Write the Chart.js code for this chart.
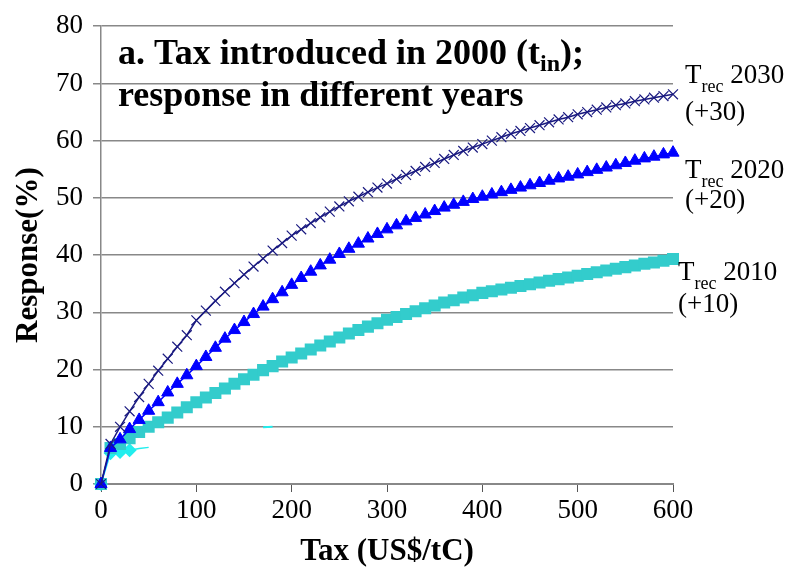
<!DOCTYPE html>
<html>
<head>
<meta charset="utf-8">
<script src="https://cdn.jsdelivr.net/npm/chart.js@4/dist/chart.umd.min.js"></script>
<style>
  html, body { margin: 0; padding: 0; background: #fff; }
  #chart { display: block; }
</style>
</head>
<body>
<canvas id="chart" width="788" height="570"></canvas>
<script>
// tax levels (US$/tC)
const taxes = [0, 10, 20, 30, 40, 50, 60, 70, 80, 90,
  100, 110, 120, 130, 140, 150, 160, 170, 180, 190,
  200, 210, 220, 230, 240, 250, 260, 270, 280, 290,
  300, 310, 320, 330, 340, 350, 360, 370, 380, 390,
  400, 410, 420, 430, 440, 450, 460, 470, 480, 490,
  500, 510, 520, 530, 540, 550, 560, 570, 580, 590, 600];

// response (%) by year
const resp2030 = [0, 7, 10, 12.7, 15.2, 17.5, 19.8, 21.9, 24, 26,
  28.6, 30.3, 32, 33.6, 35.1, 36.6, 38, 39.4, 40.8, 42.1,
  43.4, 44.5, 45.6, 46.6, 47.6, 48.5, 49.4, 50.2, 51, 51.8,
  52.5, 53.3, 54, 54.7, 55.4, 56.1, 56.8, 57.5, 58.2, 58.8,
  59.4, 60, 60.6, 61.2, 61.7, 62.2, 62.7, 63.2, 63.7, 64.1,
  64.6, 65, 65.4, 65.8, 66.2, 66.5, 66.9, 67.2, 67.5, 67.8, 68.1];

const resp2020 = [0, 6.3, 7.8, 9.6, 11.2, 12.8, 14.3, 16, 17.5, 19,
  20.6, 22.2, 23.8, 25.4, 26.9, 28.3, 29.7, 31, 32.3, 33.5,
  34.8, 36, 37.1, 38.2, 39.2, 40.2, 41.1, 42, 42.9, 43.7,
  44.5, 45.2, 45.9, 46.5, 47.1, 47.7, 48.3, 48.8, 49.3, 49.8,
  50.2, 50.6, 51, 51.4, 51.8, 52.2, 52.6, 53, 53.4, 53.7,
  54.1, 54.5, 54.9, 55.3, 55.7, 56.1, 56.5, 56.9, 57.2, 57.6, 57.9];

const resp2010 = [0, 6.3, 7, 8, 9.1, 10, 10.8, 11.6, 12.5, 13.4,
  14.3, 15.1, 15.9, 16.7, 17.5, 18.3, 19.1, 19.9, 20.6, 21.4,
  22.1, 22.8, 23.5, 24.2, 24.9, 25.6, 26.3, 26.9, 27.5, 28.1,
  28.7, 29.2, 29.7, 30.2, 30.7, 31.2, 31.7, 32.1, 32.6, 33,
  33.4, 33.7, 34, 34.3, 34.6, 34.9, 35.2, 35.5, 35.8, 36.1,
  36.4, 36.7, 37, 37.3, 37.6, 37.9, 38.2, 38.5, 38.7, 39, 39.3];

// short cyan series near the origin
const earlyTaxes = [0, 10, 20, 30, 40, 50];
const earlyResp = [0, 5.4, 5.6, 5.9, 6.2, 6.4];
const strayTaxes = [170, 180];
const strayResp = [9.9, 10];

const yTicks = [0, 10, 20, 30, 40, 50, 60, 70, 80];
const xTicks = [0, 100, 200, 300, 400, 500, 600];

const serif = "'Liberation Serif', 'DejaVu Serif', serif";

function pts(xs, ys) {
  return xs.map((x, i) => ({ x: x, y: ys[i] }));
}

// draw "T" + subscript + rest
function subText(ctx, x, y, main, sub, rest, size, bold, subDrop) {
  const w = bold ? 'bold ' : '';
  ctx.font = w + size + 'px ' + serif;
  ctx.fillText(main, x, y);
  x += ctx.measureText(main).width;
  const subSize = Math.round(size * 0.66);
  ctx.font = w + subSize + 'px ' + serif;
  ctx.fillText(sub, x, y + subDrop);
  x += ctx.measureText(sub).width;
  ctx.font = w + size + 'px ' + serif;
  ctx.fillText(rest, x, y);
}

const labelsPlugin = {
  id: 'labels',
  afterDraw(chart) {
    const ctx = chart.ctx;
    ctx.save();
    ctx.fillStyle = '#000';
    ctx.textAlign = 'left';
    ctx.textBaseline = 'alphabetic';
    // panel title
    subText(ctx, 118, 64, 'a. Tax introduced in 2000 (t', 'in', ');', 36, true, 7);
    ctx.font = 'bold 36px ' + serif;
    ctx.fillText('response in different years', 118, 106);
    // series labels
    subText(ctx, 685, 83, 'T', 'rec', ' 2030', 27, false, 9);
    ctx.font = '27px ' + serif;
    ctx.fillText('(+30)', 685, 120);
    subText(ctx, 685, 178, 'T', 'rec', ' 2020', 27, false, 9);
    ctx.font = '27px ' + serif;
    ctx.fillText('(+20)', 685, 208);
    subText(ctx, 678, 280, 'T', 'rec', ' 2010', 27, false, 9);
    ctx.font = '27px ' + serif;
    ctx.fillText('(+10)', 678, 312);
    ctx.restore();
  }
};

new Chart(document.getElementById('chart'), {
  type: 'scatter',
  data: {
    datasets: [
      {
        label: 'Trec 2030 (+30)',
        data: pts(taxes, resp2030),
        showLine: true,
        clip: 10,
        borderColor: '#1a1a80',
        borderWidth: 1.5,
        pointStyle: 'crossRot',
        pointRadius: 7,
        pointBorderWidth: 1.2,
        pointBorderColor: '#1a1a80',
        order: 1
      },
      {
        label: 'Trec 2020 (+20)',
        data: pts(taxes, resp2020),
        showLine: true,
        clip: 10,
        borderColor: '#0000ff',
        borderWidth: 1.5,
        pointStyle: 'triangle',
        pointRadius: 7,
        pointBackgroundColor: '#0000ff',
        pointBorderColor: '#0000ff',
        pointBorderWidth: 1,
        order: 2
      },
      {
        label: 'Trec 2010 (+10)',
        data: pts(taxes, resp2010),
        showLine: true,
        clip: 10,
        borderColor: '#33cccc',
        borderWidth: 1.5,
        pointStyle: 'rect',
        pointRadius: 8.5,
        pointBackgroundColor: '#33cccc',
        pointBorderColor: '#33cccc',
        pointBorderWidth: 0,
        order: 3
      },
      {
        label: 'early',
        data: pts(earlyTaxes, earlyResp),
        showLine: true,
        clip: 10,
        borderColor: '#22eeee',
        borderWidth: 1.5,
        pointStyle: 'rectRot',
        pointRadius: [6, 6, 6, 6, 0, 0],
        pointBackgroundColor: '#22eeee',
        pointBorderColor: '#22eeee',
        order: 4
      },
      {
        label: 'stray',
        data: pts(strayTaxes, strayResp),
        showLine: true,
        borderColor: '#22eeee',
        borderWidth: 2,
        pointRadius: 0,
        order: 5
      }
    ]
  },
  options: {
    responsive: false,
    devicePixelRatio: 1,
    animation: false,
    layout: { padding: { top: 22, right: 115, bottom: 0, left: 0 } },
    plugins: {
      legend: { display: false },
      tooltip: { enabled: false }
    },
    scales: {
      x: {
        type: 'linear',
        min: 0,
        max: 600,
        afterFit(s) { s.height = 86; },
        afterBuildTicks(s) { s.ticks = xTicks.map(v => ({ value: v })); },
        grid: {
          drawOnChartArea: false,
          drawTicks: true,
          tickLength: 8,
          color: '#555',
          lineWidth: 1
        },
        border: { color: '#888', width: 2 },
        ticks: {
          color: '#000',
          padding: 3,
          font: { family: serif, size: 27 }
        },
        title: {
          display: true,
          text: 'Tax (US$/tC)',
          color: '#000',
          font: { family: serif, size: 31, weight: 'bold', lineHeight: 1 },
          padding: { top: 0, bottom: 3 }
        }
      },
      y: {
        min: 0,
        max: 80,
        afterFit(s) { s.width = 101; },
        afterBuildTicks(s) { s.ticks = yTicks.map(v => ({ value: v })); },
        grid: {
          drawTicks: true,
          tickLength: 8,
          color: '#888',
          lineWidth: 1.5
        },
        border: { color: '#888', width: 1.5 },
        ticks: {
          color: '#000',
          padding: 10,
          font: { family: serif, size: 27 }
        },
        title: {
          display: true,
          text: 'Response(%)',
          color: '#000',
          font: { family: serif, size: 31, weight: 'bold', lineHeight: 1 },
          padding: { top: 13, bottom: 0 }
        }
      }
    }
  },
  plugins: [labelsPlugin]
});
</script>
</body>
</html>
